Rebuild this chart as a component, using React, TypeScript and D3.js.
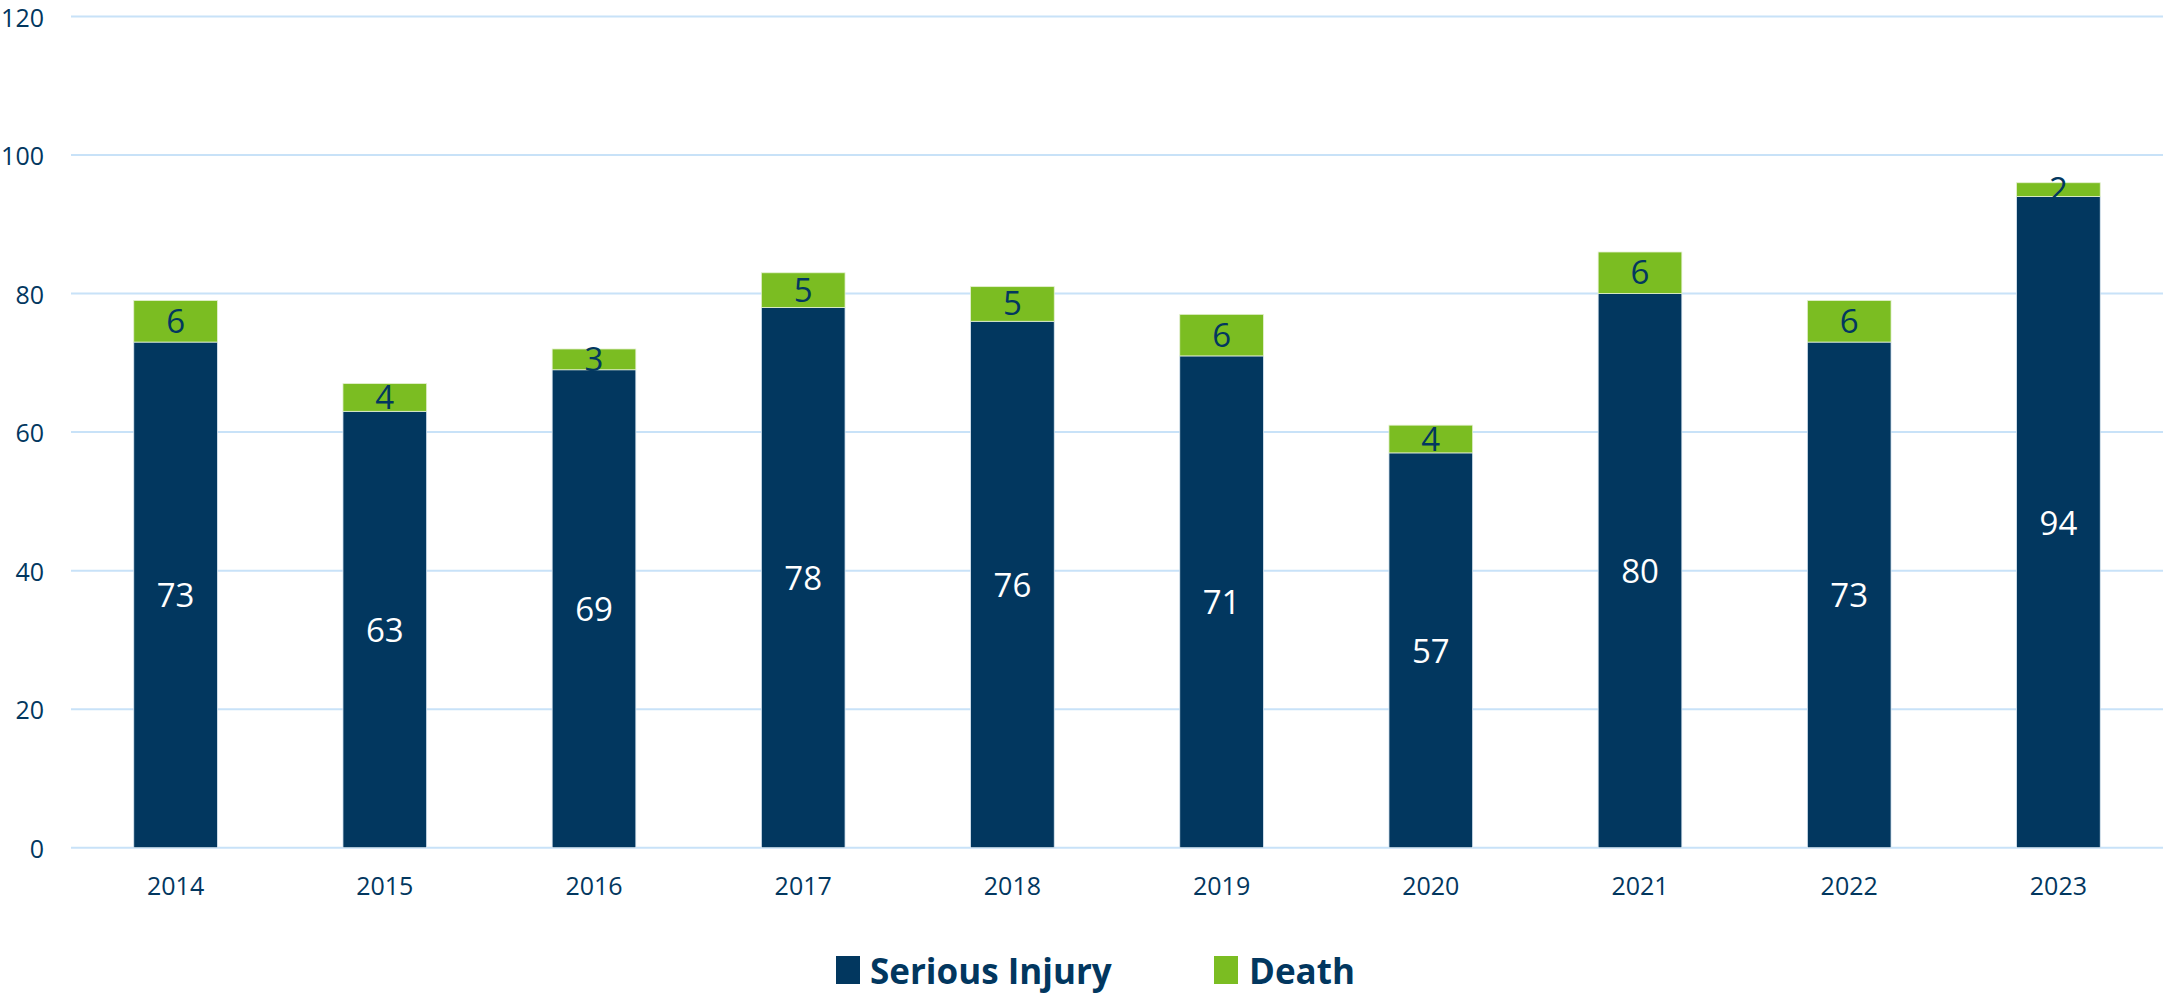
import React from "react";
import * as d3 from "d3";

const years = ["2014", "2015", "2016", "2017", "2018", "2019", "2020", "2021", "2022", "2023"];
const seriousInjury = [73, 63, 69, 78, 76, 71, 57, 80, 73, 94];
const death = [6, 4, 3, 5, 5, 6, 4, 6, 6, 2];
const yTicks = [0, 20, 40, 60, 80, 100, 120];

const W = 2165;
const H = 995;
const NAVY = "#02375F";
const GREEN = "#7BBD22";
const GRID = "#C8E2F8";
const FONT = "'Open Sans', Lato, sans-serif";

export default function App() {
  const x = d3.scaleBand<string>().domain(years).range([71, 2163]).padding(0);
  const y = d3.scaleLinear().domain([0, 120]).range([847.7, 16.5]);
  const bw = x.bandwidth() * 0.4;

  return (
    <svg width={W} height={H} style={{ position: "absolute", left: 0, top: 0, background: "#fff" }} fontFamily={FONT}>
      {yTicks.map((t) => (
        <g key={t}>
          <line x1={71} x2={2163} y1={y(t)} y2={y(t)} stroke={GRID} strokeWidth={2} />
          <text x={44} y={y(t)} textAnchor="end" dominantBaseline="central" fontSize={25} fill={NAVY}>
            {t}
          </text>
        </g>
      ))}
      {years.map((yr, i) => {
        const cx = (x(yr) as number) + x.bandwidth() / 2;
        const s = seriousInjury[i];
        const d = death[i];
        return (
          <g key={yr}>
            <rect x={cx - bw / 2} y={y(s)} width={bw} height={y(0) - y(s)} fill={NAVY} stroke="#dbe8f3" strokeWidth={0.8} />
            <rect x={cx - bw / 2} y={y(s + d)} width={bw} height={y(s) - y(s + d)} fill={GREEN} stroke="#e4f0d0" strokeWidth={0.8} />
            <text x={cx} y={(y(0) + y(s)) / 2} textAnchor="middle" dominantBaseline="central" fontSize={33} fill="#ffffff">
              {s}
            </text>
            <text x={cx} y={(y(s) + y(s + d)) / 2 - 1} textAnchor="middle" dominantBaseline="central" fontSize={33} fill={NAVY}>
              {d}
            </text>
            <text x={cx} y={885} textAnchor="middle" dominantBaseline="central" fontSize={25} fill={NAVY}>
              {yr}
            </text>
          </g>
        );
      })}
      <rect x={836} y={956} width={24} height={28} fill={NAVY} />
      <text x={870} y={984} fontSize={35} fontWeight={700} fill={NAVY}>
        Serious Injury
      </text>
      <rect x={1214} y={956} width={24} height={28} fill={GREEN} />
      <text x={1249} y={984} fontSize={35} fontWeight={700} fill={NAVY}>
        Death
      </text>
    </svg>
  );
}
